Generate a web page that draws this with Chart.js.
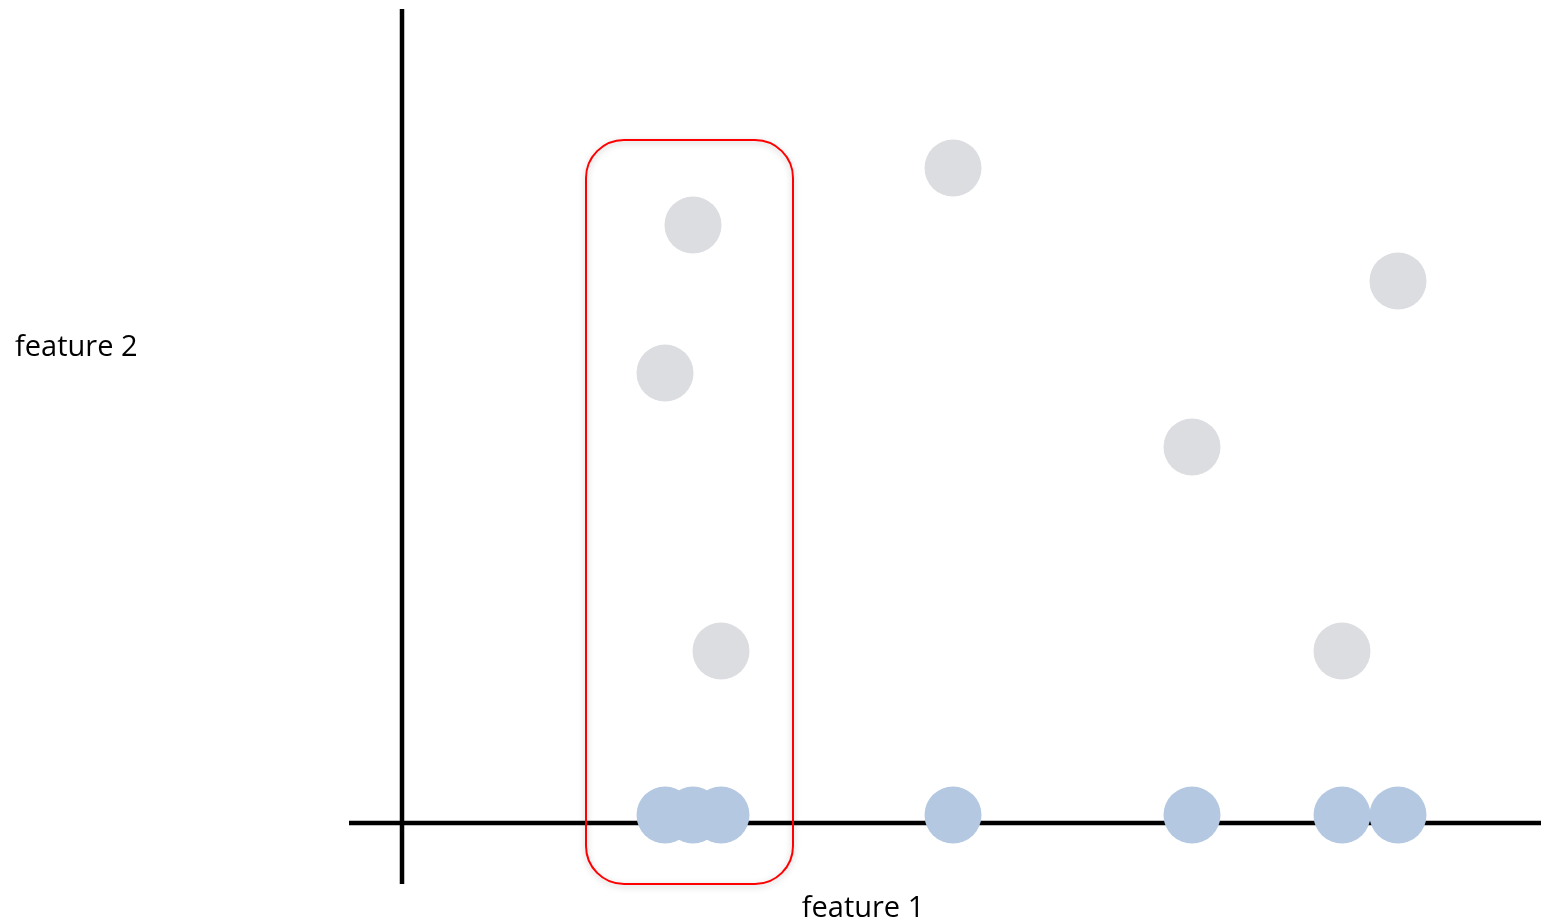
<!DOCTYPE html>
<html>
<head>
<meta charset="utf-8">
<style>
  html, body { margin: 0; padding: 0; background: #fff; overflow: hidden; }
  #wrap { width: 1541px; height: 923px; position: relative; }
</style>
<script src="https://cdn.jsdelivr.net/npm/chart.js@4/dist/chart.umd.min.js"></script>
</head>
<body>
<div id="wrap"><canvas id="myChart"></canvas></div>
<script>
// Dados (unidades arbitrárias)
const feature1 = [2.63, 2.91, 3.19, 5.51, 7.90, 9.40, 9.96];
const feature2 = [4.50, 5.98, 1.72, 6.55, 3.76, 1.72, 5.42];
const projectedY = [0.08, 0.08, 0.08, 0.08, 0.08, 0.08, 0.08]; // projeção no eixo feature 1
const xLabel = 'feature 1';
const yLabel = 'feature 2';
// caixa vermelha em volta do grupo da esquerda
const boxX = [1.84, 3.91];
const boxY = [-0.61, 6.83];

// Eixos pretos, caixa vermelha e rótulos
const decorPlugin = {
    id: 'decor',
    beforeDatasetsDraw(chart) {
        const { ctx, scales: { x, y }, chartArea } = chart;
        const x0 = x.getPixelForValue(0);
        const y0 = y.getPixelForValue(0);
        ctx.save();
        ctx.strokeStyle = '#000';
        ctx.lineWidth = 4.5;
        ctx.beginPath();
        ctx.moveTo(chartArea.left, y0);
        ctx.lineTo(chartArea.right, y0);
        ctx.moveTo(x0, chartArea.top);
        ctx.lineTo(x0, chartArea.bottom);
        ctx.stroke();
        ctx.restore();
    },
    afterDatasetsDraw(chart) {
        const { ctx, scales: { x, y } } = chart;
        const l = x.getPixelForValue(boxX[0]);
        const r = x.getPixelForValue(boxX[1]);
        const t = y.getPixelForValue(boxY[1]);
        const b = y.getPixelForValue(boxY[0]);
        ctx.save();
        ctx.shadowColor = 'rgba(0,0,0,0.25)';
        ctx.shadowBlur = 6;
        ctx.shadowOffsetY = 2;
        ctx.strokeStyle = '#ff0000';
        ctx.lineWidth = 2;
        ctx.beginPath();
        ctx.roundRect(l, t, r - l, b - t, 38);
        ctx.stroke();
        ctx.restore();

        ctx.save();
        ctx.fillStyle = '#000';
        ctx.font = '29px "Open Sans", sans-serif';
        ctx.textBaseline = 'middle';
        ctx.textAlign = 'left';
        ctx.fillText(yLabel, 15, 348);
        ctx.textAlign = 'center';
        ctx.fillText(xLabel, 863, 909);
        ctx.restore();
    }
};

const ctx = document.getElementById('myChart').getContext('2d');
new Chart(ctx, {
    type: 'scatter',
    data: {
        datasets: [
            {
                label: 'original',
                data: feature1.map((v, i) => ({ x: v, y: feature2[i] })),
                backgroundColor: '#dcdde0',
                borderWidth: 0,
                pointRadius: 28.5,
                pointHoverRadius: 28.5
            },
            {
                label: 'projeção',
                data: feature1.map((v, i) => ({ x: v, y: projectedY[i] })),
                backgroundColor: '#b4c8e1',
                borderWidth: 0,
                pointRadius: 28.5,
                pointHoverRadius: 28.5
            }
        ]
    },
    options: {
        responsive: true,
        maintainAspectRatio: false,
        animation: false,
        events: [],
        layout: { autoPadding: false, padding: { left: 349, right: 0, top: 9, bottom: 39 } },
        scales: {
            x: { type: 'linear', min: -0.53, max: 11.39, display: false },
            y: { type: 'linear', min: -0.61, max: 8.14, display: false }
        },
        plugins: {
            legend: { display: false },
            tooltip: { enabled: false }
        }
    },
    plugins: [decorPlugin]
});
</script>
</body>
</html>
